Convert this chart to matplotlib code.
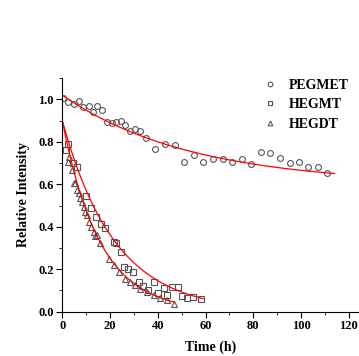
import numpy as np
import matplotlib
matplotlib.use("Agg")
import matplotlib.pyplot as plt
from matplotlib.ticker import MultipleLocator

# PEGMET (circles)
peg_t = [0.4, 2.5, 4.9, 7.1, 8.8, 11.0, 12.8, 14.7, 16.6, 18.7, 20.8, 22.6, 24.6,
         26.4, 28.5, 30.6, 32.7, 35.1, 39.0, 42.9, 47.0, 51.0, 55.2, 59.1, 63.0,
         67.1, 71.0, 75.1, 79.0, 83.0, 87.0, 91.1, 95.2, 98.9, 102.9, 107.1, 111.0]
peg_y = [1.005, 0.99, 0.978, 0.992, 0.965, 0.968, 0.94, 0.968, 0.95, 0.895, 0.89,
         0.892, 0.90, 0.879, 0.85, 0.862, 0.851, 0.819, 0.766, 0.79, 0.785, 0.706,
         0.738, 0.706, 0.717, 0.717, 0.703, 0.717, 0.695, 0.753, 0.749, 0.725,
         0.699, 0.703, 0.68, 0.68, 0.654]

# HEGMT (squares)
hegm_t = [1.6, 2.3, 4.4, 6.1, 10.0, 12.0, 14.3, 16.2, 18.0, 21.5, 22.5, 24.4, 25.8,
          27.5, 29.8, 32.0, 34.0, 36.0, 38.3, 40.0, 42.5, 44.0, 46.0, 48.3, 50.3,
          52.4, 54.9, 58.0]
hegm_y = [0.76, 0.79, 0.70, 0.68, 0.545, 0.49, 0.445, 0.413, 0.395, 0.33, 0.325,
          0.282, 0.21, 0.20, 0.186, 0.14, 0.12, 0.10, 0.139, 0.09, 0.11, 0.08,
          0.118, 0.118, 0.075, 0.063, 0.068, 0.06]

# HEGDT (triangles)
hegd_t = [2.5, 2.9, 4.0, 4.9, 5.3, 6.0, 6.8, 7.5, 8.2, 8.9, 9.6, 10.3, 11.0, 12.1,
          13.1, 13.8, 14.5, 15.9, 19.4, 21.5, 23.6, 26.4, 28.5, 30.6, 32.7, 35.5,
          38.3, 41.1, 43.9, 46.7]
hegd_y = [0.706, 0.73, 0.667, 0.605, 0.605, 0.573, 0.557, 0.534, 0.518, 0.494,
          0.47, 0.455, 0.424, 0.40, 0.377, 0.356, 0.361, 0.322, 0.247, 0.22, 0.188,
          0.153, 0.141, 0.126, 0.105, 0.094, 0.079, 0.066, 0.055, 0.036]

# exponential fits y = offset + amp * exp(-t / tau)
fit_names = ["PEGMET", "HEGMT", "HEGDT"]
fit_amp = [0.42, 0.90, 0.90]
fit_tau = [54.0, 22.0, 15.7]
fit_offset = [0.60, 0.0, 0.0]
fit_end = [114, 59, 47]

plt.rcParams["font.family"] = ["Liberation Serif", "DejaVu Serif"]
plt.rcParams["font.weight"] = "bold"

fig = plt.figure(figsize=(3.59, 3.56), dpi=100)
ax = fig.add_axes([0.1735, 0.1244, 0.825, 0.656])

mk = dict(linestyle="none", markerfacecolor="none", markeredgecolor="#555555",
          markeredgewidth=0.8, markersize=4.2)
ax.plot(peg_t, peg_y, marker="o", label="PEGMET", **mk)
ax.plot(hegm_t, hegm_y, marker="s", label="HEGMT", **mk)
ax.plot(hegd_t, hegd_y, marker="^", label="HEGDT", **mk)

for a, tau, c, end in zip(fit_amp, fit_tau, fit_offset, fit_end):
    tt = np.linspace(0, end, 200)
    ax.plot(tt, c + a * np.exp(-tt / tau), color="red", lw=0.9)

ax.set_xlim(0, 124)
ax.set_ylim(0, 1.1)
ax.xaxis.set_minor_locator(MultipleLocator(10))
ax.yaxis.set_minor_locator(MultipleLocator(0.1))
ax.set_xticks([0, 20, 40, 60, 80, 100, 120])
ax.set_yticks([0.0, 0.2, 0.4, 0.6, 0.8, 1.0])
ax.set_yticklabels(["0.0", "0.2", "0.4", "0.6", "0.8", "1.0"])

for s in ["top", "right"]:
    ax.spines[s].set_visible(False)
ax.tick_params(which="major", direction="out", length=4, width=0.8,
               labelsize=9, pad=2)
ax.tick_params(which="minor", direction="out", length=2, width=0.6)

ax.set_xlabel("Time (h)", fontsize=10, fontweight="bold", labelpad=6)
ax.set_ylabel("Relative Intensity", fontsize=10, fontweight="bold", labelpad=6)

leg = ax.legend(loc="upper left", bbox_to_anchor=(0.635, 1.05), frameon=False,
                fontsize=10, handlelength=1.0, handletextpad=0.9,
                labelspacing=0.45, markerscale=0.8)

fig.savefig("out.png", dpi=100)
